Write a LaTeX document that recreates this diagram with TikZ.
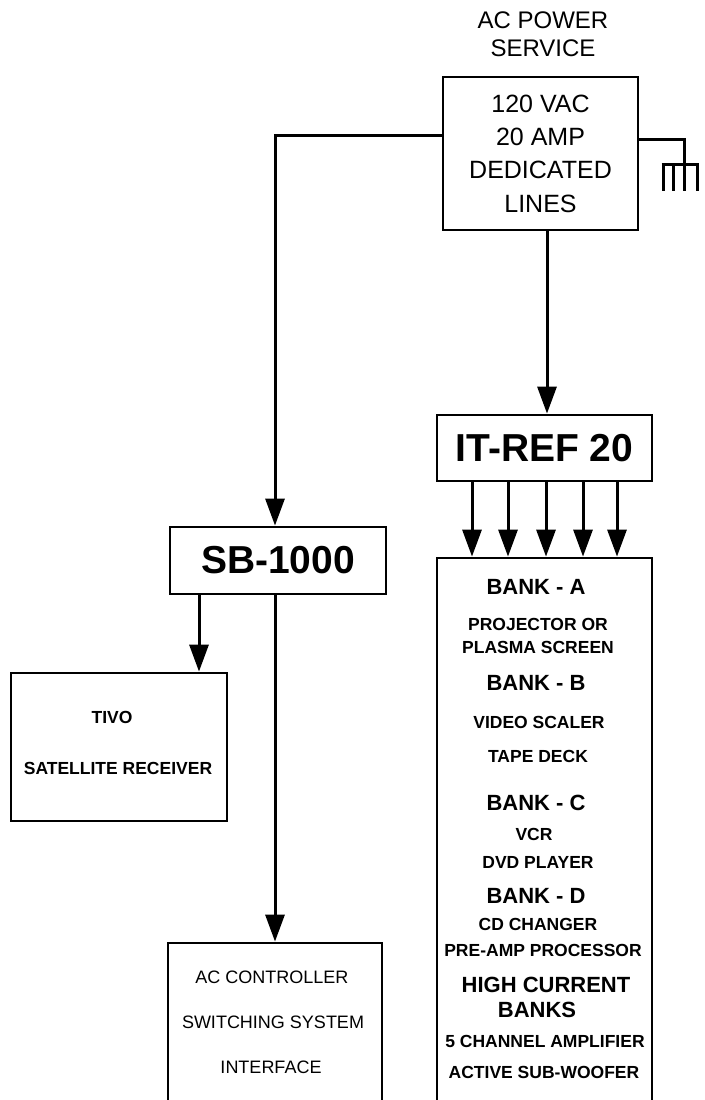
\documentclass[tikz,border=0pt]{standalone}
\usepackage{fontspec}
\setmainfont{Liberation Sans}
\usetikzlibrary{arrows.meta}
\begin{document}
\begin{tikzpicture}[x=1pt,y=-1pt, line width=3pt,
  box/.style={draw, line width=2.8pt, inner sep=0pt},
  arr/.style={-{Triangle[width=19pt,length=27pt]}},
  txt/.style={inner sep=0pt, text depth=0pt},
  head/.style={txt, text height=15.75pt, font=\fontsize{22}{26}\selectfont\bfseries},
  item/.style={txt, text height=12.5pt, font=\fontsize{17.5}{21}\selectfont\bfseries},
  plain/.style={txt, text height=12.9pt, font=\fontsize{18}{22}\selectfont},
  big/.style={font=\fontsize{39}{45}\selectfont\bfseries},
]
\useasboundingbox (0,0) rectangle (704,1100);

% AC power service
\node[align=center, inner sep=0pt, font=\fontsize{24}{28}\selectfont] (title) at (543,34) {AC POWER\\SERVICE};
\node[box, minimum width=195pt, minimum height=153pt, align=center,
      font=\fontsize{25}{33.3}\selectfont] (ac) at (540.5,153.5) {120 VAC\\20 AMP\\DEDICATED\\LINES};

% IT-REF 20 and banks
\node[box, minimum width=215pt, minimum height=66pt, big] (itref) at (544.5,448) {IT-REF 20};
\node[box, minimum width=215pt, minimum height=557pt] (bank) at (544.5,836.5) {};
\node[head] (b1)  at (536,587)  {BANK - A};
\node[item] (b2)  at (538,624)  {PROJECTOR OR};
\node[item] (b3)  at (538,647)  {PLASMA SCREEN};
\node[head] (b4)  at (536,683)  {BANK - B};
\node[item] (b5)  at (539,722)  {VIDEO SCALER};
\node[item] (b6)  at (538,756)  {TAPE DECK};
\node[head] (b7)  at (536,803)  {BANK - C};
\node[item] (b8)  at (534,834)  {VCR};
\node[item] (b9)  at (538,862)  {DVD PLAYER};
\node[head] (b10) at (536,896)  {BANK - D};
\node[item] (b11) at (538,924)  {CD CHANGER};
\node[item] (b12) at (543,950)  {PRE-AMP PROCESSOR};
\node[head] (b13) at (546,985)  {HIGH CURRENT};
\node[head] (b14) at (537,1010) {BANKS};
\node[item] (b15) at (545,1041) {5 CHANNEL AMPLIFIER};
\node[item] (b16) at (544,1072) {ACTIVE SUB-WOOFER};

% SB-1000 branch
\node[box, minimum width=216pt, minimum height=67pt, big] (sb) at (278,560.5) {SB-1000};
\node[box, minimum width=216pt, minimum height=148pt] (tivo) at (119,747) {};
\node[item] (tivo1) at (112,717) {TIVO};
\node[item] (tivo2) at (118,768) {SATELLITE RECEIVER};
\node[box, minimum width=214pt, minimum height=172pt] (acc) at (275,1029) {};
\node[plain] (acc1) at (272,977)  {AC CONTROLLER};
\node[plain] (acc2) at (273,1022) {SWITCHING SYSTEM};
\node[plain] (acc3) at (271,1067) {INTERFACE};

% connectors
\draw[arr] ([yshift=18.5pt]ac.west) -| (sb.north -| acc.north);
\draw[arr] ([xshift=6.5pt]ac.south) -- ([xshift=6.5pt]ac.south |- itref.north);
\foreach \x in {472,508,546,583,617}
  \draw[arr] (itref.south -| \x,0) -- (bank.north -| \x,0);
\draw[arr] (sb.south -| 199,0) -- (tivo.north -| 199,0);
\draw[arr] (acc.north |- sb.south) -- (acc.north);

% ground
\coordinate (gnd) at (684,164);
\draw ([yshift=14.5pt]ac.east) -| (gnd);
\draw (661.5,164) -- (699,164);
\foreach \x in {663,673,684,697}
  \draw (\x,164) -- (\x,191);
\end{tikzpicture}
\end{document}
